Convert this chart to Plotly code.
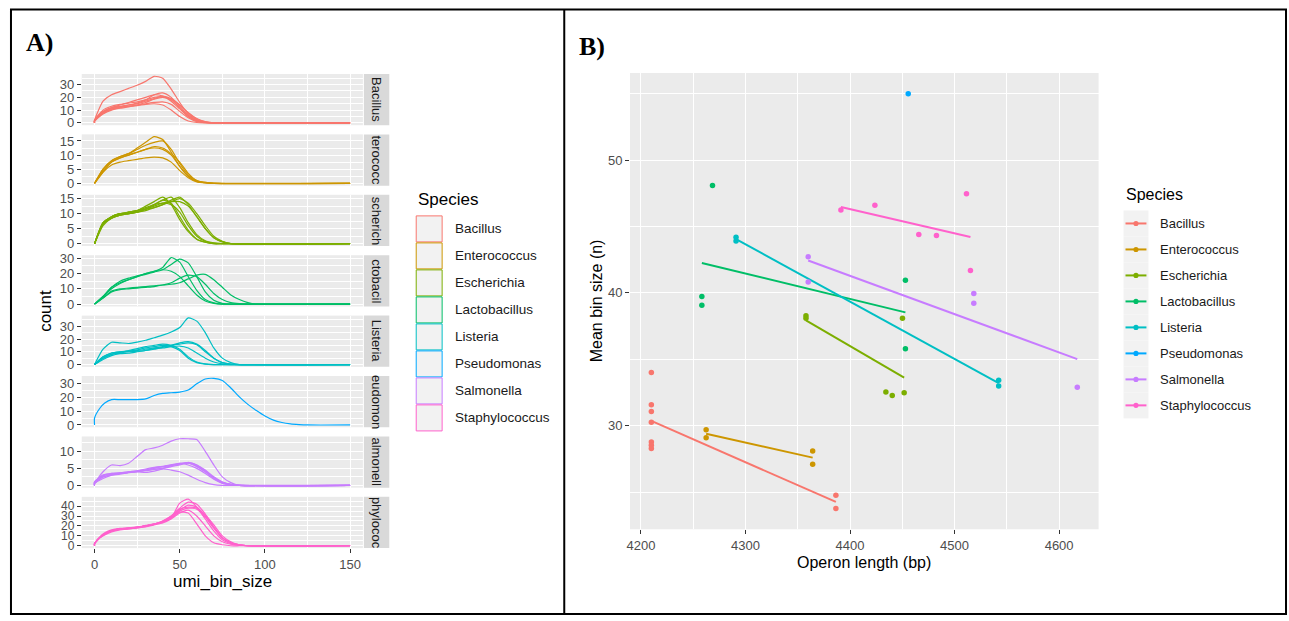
import numpy as np
import plotly.graph_objects as go

W, H = 1289, 621

# ---------------- data ----------------
species = ["Bacillus", "Enterococcus", "Escherichia", "Lactobacillus",
           "Listeria", "Pseudomonas", "Salmonella", "Staphylococcus"]
colors = ["#F8766D", "#CD9600", "#7CAE00", "#00BE67",
          "#00BFC4", "#00A9FF", "#C77CFF", "#FF61CC"]
strip_text = ["Bacillus", "terococc", "scherich", "ctobacil",
              "Listeria", "eudomon", "almonell", "phylococ"]

# Panel A: count per umi_bin_size, one curve per sample
bac_x = [0, 5, 10, 15, 20, 25, 30, 35, 40, 45, 50, 55, 60, 65, 70]
bac_y = [
    [2, 17, 22, 24.5, 27, 29.5, 32.5, 36.5, 35, 26.5, 16, 7, 2.5, 0.5, 0],
    [1.5, 8, 11, 12.5, 14, 15.5, 18, 22, 23.5, 20, 13, 6, 2, 0.5, 0],
    [2, 9, 12, 13, 14, 15, 17, 19, 21, 19, 14, 8, 3, 0.8, 0],
    [1.5, 7, 10, 11.5, 12.5, 14, 16, 18.5, 20, 18, 12, 5, 1.5, 0.3, 0],
    [2, 9, 11.5, 12.5, 13, 13.5, 14.5, 15, 14, 10, 5, 1.5, 0.3, 0, 0],
    [1, 8, 12, 14, 16, 18, 20, 22, 21, 17, 11, 5, 1.5, 0.3, 0],
    [2, 10, 13, 14.5, 15.5, 16.5, 18, 20, 20.5, 18.5, 14, 8, 3.5, 1, 0],
    [1.5, 7.5, 10.5, 12, 13, 14, 15, 16, 16.5, 14.5, 9, 4, 1, 0.2, 0],
]
ent_x = [0, 5, 10, 15, 20, 25, 30, 35, 40, 45, 50, 55, 60, 65, 70]
ent_y = [
    [0, 5, 8, 9.5, 10.5, 12.5, 14.5, 16.5, 15.5, 11, 6, 2.5, 0.7, 0.2, 0],
    [0, 5, 8, 9.5, 10.5, 12, 13.5, 14.5, 15, 12, 7, 3, 1, 0.3, 0],
    [0, 4.5, 7.5, 9, 10, 11, 12, 13, 12.5, 10.5, 7.5, 3.5, 1, 0.3, 0],
    [0, 4, 7.5, 9, 10, 11, 12, 12.5, 12, 10, 6, 2.5, 0.7, 0.2, 0],
    [0, 4, 6.5, 7.5, 8, 8.5, 9, 9.3, 9, 7.5, 4.5, 2, 0.5, 0.1, 0],
]
esc_x = [0, 5, 10, 15, 20, 25, 30, 35, 40, 45, 50, 55, 60, 65, 70, 75, 80]
esc_y = [
    [0, 7, 9, 10, 10.5, 11, 12.5, 14, 15.5, 13, 8, 4, 1.5, 0.5, 0, 0, 0],
    [0, 6.5, 8.5, 9.5, 10, 10.5, 11.5, 13, 14.5, 13.5, 9, 4.5, 1.5, 0.5, 0, 0, 0],
    [0, 7, 9, 10, 10.5, 11, 12, 13, 13.5, 13, 10.5, 6, 2.5, 0.8, 0.2, 0, 0],
    [0, 6.5, 9, 10, 10.5, 11, 11.5, 12, 13, 14.5, 15.5, 13, 9, 5, 2, 0.7, 0],
    [0, 6.5, 8.5, 9.5, 10, 10.5, 11, 12, 13, 14, 15, 13.5, 10, 6, 2.5, 0.8, 0],
    [0, 6, 8.5, 9.5, 10, 11, 11.5, 12.5, 13.5, 14, 14, 12.5, 9, 5, 2, 0.6, 0],
    [0, 7, 9, 10, 10, 10.5, 11.5, 13, 14.5, 15.5, 12, 7, 3, 1, 0.3, 0, 0],
]
lac_x = [0, 5, 10, 15, 20, 25, 30, 35, 40, 45, 50, 55, 60, 65, 70, 75, 80, 85, 90, 95]
lac_y = [
    [0, 5, 11, 15, 17, 18.5, 20, 21.5, 24, 30.5, 27.5, 18, 9, 3, 0.8, 0, 0, 0, 0, 0],
    [0, 5, 10, 13.5, 16, 18, 19.5, 21, 22.5, 26, 29.5, 27, 18, 8, 2.5, 0.5, 0, 0, 0, 0],
    [0, 4, 8, 9.5, 10, 10.5, 11, 11.5, 12.5, 14, 17, 19, 18, 13, 7, 3, 1, 0.3, 0, 0],
    [0, 4, 8.5, 10, 10.5, 11, 11.5, 12, 12.5, 13, 14, 16.5, 19, 19.5, 16, 11, 6, 3, 1, 0],
    [0, 5, 11, 14, 16, 18, 20, 21.5, 22.5, 21.5, 18, 12, 6, 2, 0.5, 0, 0, 0, 0, 0],
]
lis_x = [0, 5, 10, 15, 20, 25, 30, 35, 40, 45, 50, 55, 60, 65, 70, 75, 80, 85]
lis_y = [
    [0, 12, 17.5, 17, 16.5, 17.5, 19, 21, 23, 25.5, 29, 36.5, 34, 25, 13, 5, 1.5, 0],
    [0, 6, 9, 10, 10.5, 11, 12, 13, 14, 15, 17, 18, 16, 11, 5, 1.5, 0.3, 0],
    [0, 5, 8, 9, 10, 10.5, 11, 12, 13.5, 15, 16, 17, 15.5, 10, 5, 1.5, 0.3, 0],
    [0, 6, 9, 10, 11, 12.5, 14, 15, 16, 15, 12, 6, 2, 0.5, 0, 0, 0, 0],
    [0, 5, 8, 9.5, 10.5, 11.5, 13, 14, 15, 14, 11, 5, 1.5, 0.3, 0, 0, 0, 0],
    [0, 4, 7, 8.5, 9, 10, 11, 12.5, 13, 14, 14.5, 13, 9, 5, 2, 0.5, 0, 0],
]
pse_x = [0, 3, 6, 10, 15, 20, 25, 30, 35, 40, 45, 50, 55, 60, 65, 70, 75, 80,
         85, 90, 95, 100, 105, 110, 115, 120, 125]
pse_y = [
    [5, 12, 16, 18.5, 18.5, 18.5, 18.5, 19, 21.5, 23, 23.5, 24, 25.5, 30, 33.5, 34,
     32.5, 27, 20.5, 15, 10.5, 6.5, 3.5, 1.8, 0.8, 0.3, 0],
]
sal_x = [0, 5, 10, 15, 20, 25, 30, 35, 40, 45, 50, 55, 60, 65, 70, 75, 80, 85]
sal_y = [
    [0.5, 4, 6, 5.8, 6.5, 8.5, 10.5, 11, 11.8, 13, 13.7, 13.7, 13.5, 10, 6, 2.5, 0.8, 0],
    [0.5, 2.5, 3, 3.3, 3.7, 4, 4.3, 4.7, 5, 5.8, 6.5, 6.7, 6, 4.5, 2.5, 1, 0.3, 0],
    [1, 3, 3.5, 3.7, 4, 4.2, 4.5, 5, 5.5, 6, 6.3, 6.5, 5.5, 4, 2.3, 1, 0.3, 0],
    [0.8, 2.5, 3.2, 3.5, 3.8, 4, 4.5, 5.2, 5.6, 6, 6.5, 6, 5, 3.5, 1.8, 0.6, 0.2, 0],
    [1, 2.8, 3.3, 3.6, 4, 4.3, 4.5, 4.8, 5, 5.5, 6, 6.8, 6, 4.3, 2.3, 0.8, 0.2, 0],
    [1, 3, 3.5, 3.6, 3.8, 4, 3.8, 4.2, 4.8, 4.5, 4, 3, 1.8, 0.8, 0.2, 0, 0, 0],
    [0.5, 2, 3, 3.5, 3.8, 4.2, 4.8, 5.3, 5.5, 5.8, 6.2, 6.5, 5.7, 4, 2, 0.7, 0.2, 0],
]
sta_x = [0, 3, 6, 10, 15, 20, 25, 30, 35, 40, 45, 50, 55, 60, 65, 70, 75, 80, 85, 90]
sta_y = [
    [2, 9, 13, 16, 17.5, 18, 18.5, 20, 22, 24, 28, 43, 47, 39, 27, 15, 6, 2, 0.5, 0],
    [2, 8, 12, 15, 17, 17.5, 18.5, 20, 22, 25, 30, 38, 44, 42, 32, 19, 8, 3, 1, 0],
    [2, 8, 12, 15, 16.5, 17, 18, 19.5, 21.5, 24, 29, 36, 41, 39, 30, 18, 8, 3, 1, 0],
    [2, 8, 12, 15, 17, 17.5, 18.5, 20, 22, 24, 28, 35, 38, 37, 29, 18, 8, 3, 1, 0],
    [2, 8, 11, 14, 16, 17, 18, 19, 21, 23, 27, 33, 36, 30, 20, 10, 4, 1.5, 0.5, 0],
    [2, 8, 12, 15, 17, 17.5, 18.5, 20, 22, 25, 30, 37, 39, 38, 31, 21, 10, 4, 1, 0],
    [2, 8, 12, 15, 17, 18, 19, 20.5, 22, 24, 28, 34, 33, 22, 10, 3, 1, 0, 0, 0],
]
a_xmax = 150
a_ydtick = [10, 5, 5, 10, 10, 10, 5, 10]

# Panel B: operon length vs mean bin size
pt_species = (["Bacillus"] * 9 + ["Enterococcus"] * 4 + ["Escherichia"] * 6 +
              ["Lactobacillus"] * 5 + ["Listeria"] * 4 + ["Pseudomonas"] +
              ["Salmonella"] * 5 + ["Staphylococcus"] * 6)
pt_length = [4210, 4210, 4210, 4210, 4210, 4210, 4210, 4386.5, 4386.5,
             4262.4, 4262.4, 4364.3, 4364.3,
             4357.9, 4357.9, 4434.3, 4440.4, 4450.2, 4451.8,
             4268.5, 4258.3, 4258.3, 4453, 4453,
             4291, 4291, 4542.2, 4542.2,
             4455.7,
             4360, 4360, 4518.4, 4518.4, 4617.4,
             4391.3, 4423.8, 4465.8, 4482.7, 4511.4, 4515.2]
pt_mean = [34.0, 31.57, 31.07, 30.26, 28.78, 28.53, 28.28, 24.76, 23.76,
           29.69, 29.1, 28.09, 27.1,
           38.28, 38.1, 32.53, 32.28, 38.09, 32.48,
           48.09, 39.72, 39.07, 40.95, 35.8,
           44.2, 43.9, 33.42, 32.98,
           55.0,
           42.73, 40.83, 39.96, 39.22, 32.9,
           46.24, 46.6, 44.4, 44.33, 47.47, 41.69]

# ---------------- layout constants ----------------
def fx(p):
    return p / W

def fy(p):
    return 1 - p / H

A_X0, A_X1 = 78, 360
A_TOP0, A_STEP, A_H = 71, 61.3, 52
STRIP_X0, STRIP_X1 = 361, 386.5
B_X0, B_X1, B_Y0, B_Y1 = 628, 1098, 70, 533

FONT = "Liberation Sans, Arial, sans-serif"
TICKCOL = "#4D4D4D"
BG = "#EBEBEB"

fig = go.Figure()

a_data = [(bac_x, bac_y), (ent_x, ent_y), (esc_x, esc_y), (lac_x, lac_y),
          (lis_x, lis_y), (pse_x, pse_y), (sal_x, sal_y), (sta_x, sta_y)]

shapes = []
annotations = []
layout_axes = {}

a_xrange = [-0.05 * a_xmax, 1.05 * a_xmax]

for i, (sx, sys_) in enumerate(a_data):
    n = i + 1
    xa = "x" if n == 1 else f"x{n}"
    ya = "y" if n == 1 else f"y{n}"
    ymax = max(max(c) for c in sys_)
    for curve in sys_:
        xs = list(sx)
        ys = list(curve)
        if ys[0] > 0:
            xs = [0] + xs
            ys = [0] + ys
        xs = xs + [a_xmax]
        ys = ys + [0]
        fig.add_trace(go.Scatter(
            x=xs, y=ys, mode="lines", xaxis=xa, yaxis=ya,
            line=dict(color=colors[i], width=1.2, shape="spline", smoothing=0.6),
            showlegend=False, hoverinfo="skip"))
    top = A_TOP0 + A_STEP * i
    bot = top + A_H
    last = (n == 8)
    tsize = 12 if n == 8 else 13
    layout_axes[f"xaxis{'' if n == 1 else n}"] = dict(
        domain=[fx(A_X0), fx(A_X1)], anchor=ya, range=a_xrange,
        tickmode="linear", tick0=0, dtick=50,
        showgrid=True, gridcolor="white", gridwidth=1.1,
        minor=dict(dtick=25, tick0=0, showgrid=True, gridcolor="white", gridwidth=0.5, ticks=""),
        zeroline=False, showline=False,
        showticklabels=last, ticks="outside" if last else "", ticklen=4,
        tickcolor="#333333", tickfont=dict(family=FONT, size=13, color=TICKCOL),
        fixedrange=True)
    layout_axes[f"yaxis{'' if n == 1 else n}"] = dict(
        domain=[fy(bot), fy(top)], anchor=xa,
        range=[-0.05 * ymax, 1.05 * ymax],
        tickmode="linear", tick0=0, dtick=a_ydtick[i],
        showgrid=True, gridcolor="white", gridwidth=1.1,
        minor=dict(dtick=a_ydtick[i] / 2, tick0=0, showgrid=True, gridcolor="white",
                   gridwidth=0.5, ticks=""),
        zeroline=False, showline=False, ticks="outside", ticklen=4,
        tickcolor="#333333", tickfont=dict(family=FONT, size=tsize, color=TICKCOL),
        fixedrange=True)
    # strip
    shapes.append(dict(type="rect", xref="paper", yref="paper",
                       x0=fx(STRIP_X0), x1=fx(STRIP_X1), y0=fy(bot), y1=fy(top),
                       fillcolor="#D9D9D9", line=dict(width=0), layer="below"))
    annotations.append(dict(xref="paper", yref="paper",
                            x=fx((STRIP_X0 + STRIP_X1) / 2), y=fy((top + bot) / 2),
                            text=strip_text[i], textangle=90, showarrow=False,
                            font=dict(family=FONT, size=13, color="#1A1A1A"),
                            xanchor="center", yanchor="middle"))

# Panel B
b_len = np.array(pt_length)
b_mean = np.array(pt_mean)
b_sp = np.array(pt_species)
for i, sp in enumerate(species):
    m = b_sp == sp
    xs = b_len[m]
    ys = b_mean[m]
    fig.add_trace(go.Scatter(
        x=xs, y=ys, mode="markers", xaxis="x9", yaxis="y9",
        marker=dict(color=colors[i], size=5.5, line=dict(width=0)),
        showlegend=False, hoverinfo="skip"))
    if len(np.unique(xs)) >= 2:
        k, b = np.polyfit(xs, ys, 1)
        lx = np.array([xs.min(), xs.max()])
        fig.add_trace(go.Scatter(
            x=lx, y=k * lx + b, mode="lines", xaxis="x9", yaxis="y9",
            line=dict(color=colors[i], width=2),
            showlegend=False, hoverinfo="skip"))

bx_span = b_len.max() - b_len.min()
by_span = b_mean.max() - b_mean.min()
layout_axes["xaxis9"] = dict(
    domain=[fx(B_X0), fx(B_X1)], anchor="y9",
    range=[b_len.min() - 0.05 * bx_span, b_len.max() + 0.05 * bx_span],
    tickmode="linear", tick0=4200, dtick=100,
    showgrid=True, gridcolor="white", gridwidth=1.4,
    minor=dict(dtick=50, tick0=4200, showgrid=True, gridcolor="white", gridwidth=0.7, ticks=""),
    zeroline=False, showline=False, ticks="outside", ticklen=4,
    tickcolor="#333333", tickfont=dict(family=FONT, size=13, color=TICKCOL),
    fixedrange=True)
layout_axes["yaxis9"] = dict(
    domain=[fy(B_Y1), fy(B_Y0)], anchor="x9",
    range=[b_mean.min() - 0.05 * by_span, b_mean.max() + 0.05 * by_span],
    tickmode="linear", tick0=0, dtick=10,
    showgrid=True, gridcolor="white", gridwidth=1.4,
    minor=dict(dtick=5, tick0=0, showgrid=True, gridcolor="white", gridwidth=0.7, ticks=""),
    zeroline=False, showline=False, ticks="outside", ticklen=4,
    tickcolor="#333333", tickfont=dict(family=FONT, size=13, color=TICKCOL),
    fixedrange=True)

# ---------------- legends (drawn) ----------------
LA_X0, LA_X1, LA_TOP, LA_STEP = 413.5, 439.5, 215, 27.4
LB_X0, LB_X1, LB_TOP, LB_STEP = 1123, 1148, 209.5, 26.37
for i, sp in enumerate(species):
    t = LA_TOP + LA_STEP * i
    shapes.append(dict(type="rect", xref="paper", yref="paper",
                       x0=fx(LA_X0), x1=fx(LA_X1), y0=fy(t + LA_STEP - 1), y1=fy(t),
                       fillcolor="#F2F2F2", line=dict(color=colors[i], width=1)))
    annotations.append(dict(xref="paper", yref="paper", x=fx(450), y=fy(t + (LA_STEP - 1) / 2),
                            text=sp, showarrow=False, xanchor="left", yanchor="middle",
                            font=dict(family=FONT, size=13.5, color="#1A1A1A")))
    tb = LB_TOP + LB_STEP * i
    cy = tb + LB_STEP / 2
    shapes.append(dict(type="rect", xref="paper", yref="paper",
                       x0=fx(LB_X0), x1=fx(LB_X1), y0=fy(tb + LB_STEP), y1=fy(tb),
                       fillcolor="#F2F2F2", line=dict(width=0)))
    shapes.append(dict(type="line", xref="paper", yref="paper",
                       x0=fx(LB_X0 + 2), x1=fx(LB_X1 - 2), y0=fy(cy), y1=fy(cy),
                       line=dict(color=colors[i], width=2)))
    shapes.append(dict(type="circle", xref="paper", yref="paper",
                       x0=fx((LB_X0 + LB_X1) / 2 - 2.6), x1=fx((LB_X0 + LB_X1) / 2 + 2.6),
                       y0=fy(cy + 2.6), y1=fy(cy - 2.6),
                       fillcolor=colors[i], line=dict(width=0)))
    annotations.append(dict(xref="paper", yref="paper", x=fx(1158), y=fy(cy),
                            text=sp, showarrow=False, xanchor="left", yanchor="middle",
                            font=dict(family=FONT, size=13, color="#1A1A1A")))

# borders
shapes.append(dict(type="rect", xref="paper", yref="paper",
                   x0=fx(7), x1=fx(1286), y0=fy(619), y1=fy(5.5),
                   line=dict(color="black", width=2), fillcolor="rgba(0,0,0,0)"))
shapes.append(dict(type="line", xref="paper", yref="paper",
                   x0=fx(562), x1=fx(562), y0=fy(619), y1=fy(5.5),
                   line=dict(color="black", width=2)))

# texts
SERIF = "Liberation Serif, Times New Roman, serif"
annotations += [
    dict(xref="paper", yref="paper", x=fx(20), y=fy(39), text="<b>A)</b>",
         showarrow=False, xanchor="left", yanchor="middle",
         font=dict(family=SERIF, size=26, color="black")),
    dict(xref="paper", yref="paper", x=fx(575), y=fy(43), text="<b>B)</b>",
         showarrow=False, xanchor="left", yanchor="middle",
         font=dict(family=SERIF, size=26, color="black")),
    dict(xref="paper", yref="paper", x=fx(42), y=fy(311.5), text="count",
         textangle=-90, showarrow=False, xanchor="center", yanchor="middle",
         font=dict(family=FONT, size=17, color="black")),
    dict(xref="paper", yref="paper", x=fx(219), y=fy(586), text="umi_bin_size",
         showarrow=False, xanchor="center", yanchor="middle",
         font=dict(family=FONT, size=17, color="black")),
    dict(xref="paper", yref="paper", x=fx(413), y=fy(198), text="Species",
         showarrow=False, xanchor="left", yanchor="middle",
         font=dict(family=FONT, size=17, color="black")),
    dict(xref="paper", yref="paper", x=fx(594), y=fy(301.5), text="Mean bin size (n)",
         textangle=-90, showarrow=False, xanchor="center", yanchor="middle",
         font=dict(family=FONT, size=16, color="black")),
    dict(xref="paper", yref="paper", x=fx(863), y=fy(567), text="Operon length (bp)",
         showarrow=False, xanchor="center", yanchor="middle",
         font=dict(family=FONT, size=16, color="black")),
    dict(xref="paper", yref="paper", x=fx(1123), y=fy(193), text="Species",
         showarrow=False, xanchor="left", yanchor="middle",
         font=dict(family=FONT, size=16, color="black")),
]

fig.update_layout(
    width=W, height=H, margin=dict(l=0, r=0, t=0, b=0, pad=0),
    paper_bgcolor="white", plot_bgcolor=BG,
    showlegend=False, shapes=shapes, annotations=annotations,
    font=dict(family=FONT),
    **layout_axes)

fig.write_html(
    "out.html",
    config=dict(displayModeBar=False, responsive=False),
    post_script="document.body.style.margin='0px';document.body.style.padding='0px';"
                "document.documentElement.style.overflow='hidden';")
